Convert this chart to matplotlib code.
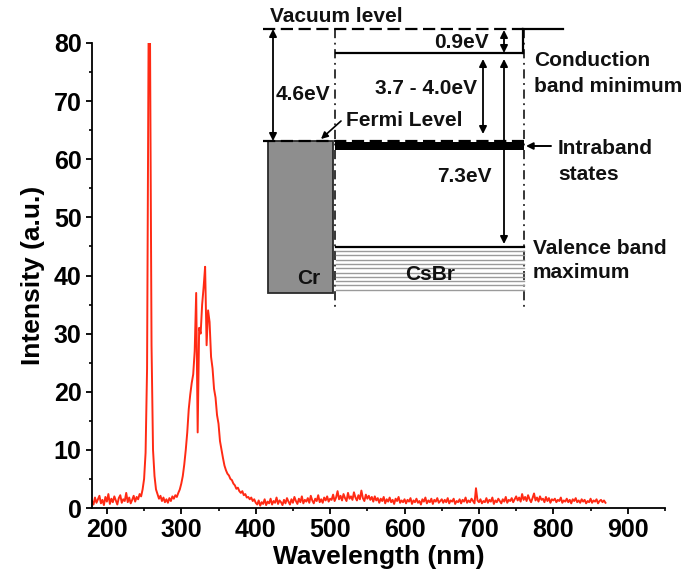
import numpy as np
import matplotlib
matplotlib.use("Agg")
import matplotlib.pyplot as plt
from matplotlib.ticker import MultipleLocator
from matplotlib.patches import Rectangle, FancyArrowPatch

plt.rcParams["font.family"] = ["Liberation Sans", "DejaVu Sans"]

# Emission spectrum, sampled every 2 nm from 180 to 870 nm
wavelength_nm = np.arange(180, 872, 2)
intensity = [
    # 180-228
    1.2, 0.6, 1.8, 0.9, 1.5, 2.1, 0.8, 1.4, 0.5, 1.9, 1.1, 2.4, 0.7, 1.6, 1.0, 2.0, 1.3, 0.6, 1.7, 2.2, 0.9, 1.5, 1.2, 2.6, 1.0,
    # 230-278
    1.8, 0.8, 1.4, 2.1, 1.1, 1.9, 1.5, 2.4, 2.0, 3.2, 5.0, 9.5, 24.0, 80.0, 80.0, 28.0, 10.0, 5.5, 3.2, 2.4, 1.6, 2.1, 1.2, 1.8, 1.0,
    # 280-328
    1.5, 0.9, 1.7, 1.2, 2.0, 1.6, 2.2, 1.9, 2.6, 3.2, 4.2, 5.5, 7.5, 10.0, 13.0, 17.0, 19.5, 21.5, 23.0, 27.0, 37.0, 13.0, 31.0, 30.0, 35.0,
    # 330-378
    38.0, 41.5, 28.0, 34.0, 32.0, 26.0, 24.0, 20.5, 19.0, 16.0, 14.5, 11.5, 10.0, 8.6, 7.3, 6.5, 5.9, 5.6, 5.0, 4.8, 4.2, 3.9, 3.3, 3.5, 2.9,
    # 380-400
    2.6, 2.9, 2.2, 2.4, 1.8, 1.9, 1.5, 1.8, 1.2, 1.5, 0.9,
    # 402-450
    0.6, 1.3, 0.4, 1.0, 0.7, 1.5, 0.5, 1.1, 0.8, 1.6, 0.6, 1.2, 0.9, 1.8, 0.7, 1.3, 1.0, 0.5, 1.4, 0.8, 1.7, 1.1, 0.6, 1.5, 0.9,
    # 452-500
    1.9, 1.2, 0.7, 1.6, 1.0, 2.0, 0.8, 1.4, 1.1, 1.7, 0.9, 2.1, 1.3, 0.8, 1.6, 1.2, 2.2, 1.0, 1.5, 0.9, 1.8, 1.3, 2.0, 1.1, 1.6,
    # 502-550
    1.4, 2.3, 1.2, 1.8, 2.9, 1.5, 2.1, 1.3, 2.4, 1.7, 1.2, 2.6, 1.6, 2.0, 1.4, 2.7, 1.8, 1.3, 2.2, 1.5, 3.0, 1.7, 1.2, 2.3, 1.6,
    # 552-600
    2.1, 1.4, 1.9, 1.1, 2.0, 1.3, 1.7, 0.9, 1.6, 1.2, 1.9, 0.8, 1.5, 1.1, 1.8, 1.0, 1.4, 0.7, 1.6, 1.2, 1.9, 0.9, 1.3, 1.0, 1.5,
    # 602-650
    0.8, 1.4, 1.1, 1.7, 0.7, 1.3, 1.0, 1.6, 0.9, 1.2, 0.6, 1.5, 1.1, 1.8, 0.8, 1.3, 1.0, 1.6, 0.7, 1.4, 1.1, 1.7, 0.9, 1.2, 1.5,
    # 652-700
    0.9, 1.4, 1.0, 1.7, 0.8, 1.3, 1.1, 1.6, 0.7, 1.2, 1.0, 1.5, 0.8, 1.4, 1.1, 1.8, 0.9, 1.3, 1.0, 1.6, 1.2, 0.8, 3.4, 1.3, 1.0,
    # 702-750
    1.5, 0.8, 1.2, 1.0, 1.7, 0.9, 1.4, 1.1, 1.8, 0.7, 1.3, 1.0, 1.6, 1.2, 0.8, 1.5, 1.1, 1.9, 0.9, 1.4, 1.2, 1.7, 1.0, 1.5, 2.0,
    # 752-800
    1.3, 1.8, 1.1, 2.4, 1.4, 1.9, 1.2, 2.2, 1.5, 1.0, 1.7, 2.5, 1.3, 1.8, 1.1, 2.0, 1.4, 1.6, 1.0, 1.9, 1.2, 1.7, 0.9, 1.5, 1.3,
    # 802-850
    1.6, 1.0, 1.4, 1.2, 1.8, 0.9, 1.3, 1.1, 1.6, 1.0, 1.4, 0.8, 1.5, 1.2, 1.7, 1.0, 1.3, 0.9, 1.5, 1.1, 1.4, 0.8, 1.2, 1.0, 1.6,
    # 852-870
    0.9, 1.3, 1.1, 1.5, 0.8, 1.2, 1.4, 1.0, 1.3, 0.9,
]

x_ticks = [200, 300, 400, 500, 600, 700, 800, 900]
y_ticks = [0, 10, 20, 30, 40, 50, 60, 70, 80]

W, H = 698, 580
fig = plt.figure(figsize=(W / 100, H / 100), dpi=100)
ax = fig.add_axes([92 / W, 1 - 508 / H, (665 - 92) / W, (508 - 43) / H])

ax.plot(wavelength_nm, intensity, color="#ff2a14", lw=1.4)
ax.set_xlim(180, 950)
ax.set_ylim(0, 80)
ax.set_xticks(x_ticks)
ax.set_yticks(y_ticks)
ax.xaxis.set_minor_locator(MultipleLocator(50))
ax.yaxis.set_minor_locator(MultipleLocator(5))
for s in ("top", "right"):
    ax.spines[s].set_visible(False)
for s in ("left", "bottom"):
    ax.spines[s].set_linewidth(1.3)
ax.tick_params(which="major", direction="out", length=4.5, width=1.3, pad=3,
               labelsize=18)
ax.tick_params(which="minor", direction="out", length=2.5, width=1.2)
for lab in ax.get_xticklabels() + ax.get_yticklabels():
    lab.set_fontweight("bold")
ax.set_xlabel("Wavelength (nm)", fontsize=19, fontweight="bold", labelpad=2)
ax.set_ylabel("Intensity (a.u.)", fontsize=19, fontweight="bold", labelpad=6)

# Energy-level diagram drawn in figure pixel coordinates
dg = fig.add_axes([0, 0, 1, 1], facecolor="none")
dg.set_xlim(0, W)
dg.set_ylim(H, 0)
dg.axis("off")

k = "black"
lw_lvl = 1.6
dash = (5.5, 2.5)

# vacuum level
dg.plot([263, 523], [29, 29], color=k, lw=lw_lvl, dashes=dash)
dg.plot([523, 563], [29, 29], color=k, lw=lw_lvl)
dg.plot([523, 523], [29, 53], color=k, lw=lw_lvl)
# conduction band minimum
dg.plot([336, 523], [53, 53], color=k, lw=lw_lvl)
# CsBr boundaries (dash-dot)
for xv in (335, 524):
    dg.plot([xv, xv], [29, 307], color=k, lw=1.1, dashes=(6, 3, 1.2, 3))

# Cr block
dg.add_patch(Rectangle((268, 141), 65, 152, facecolor="#8e8e8e",
                       edgecolor="#2a2a2a", lw=1.3, zorder=2))
# intraband states bar and Fermi level
dg.add_patch(Rectangle((335, 142), 189, 8, facecolor=k, edgecolor="none", zorder=3))
dg.plot([263, 524], [141, 141], color=k, lw=lw_lvl, dashes=dash, zorder=4)
# valence band maximum and filled band
dg.plot([336, 524], [247, 247], color=k, lw=lw_lvl)
for yv in np.arange(251, 294, 4.3):
    dg.plot([336, 524], [yv, yv], color="#9a9a9a", lw=1.0)


def dbl_arrow(x, y0, y1):
    dg.add_patch(FancyArrowPatch((x, y0), (x, y1), arrowstyle="<|-|>",
                                 mutation_scale=11, color=k, lw=1.3,
                                 shrinkA=0, shrinkB=0, zorder=5))


dbl_arrow(273, 29, 141)
dbl_arrow(504, 30, 53)
dbl_arrow(483, 59, 134)
dbl_arrow(504, 59, 244)

# pointer arrows
dg.add_patch(FancyArrowPatch((341, 121), (321, 139), arrowstyle="-|>",
                             mutation_scale=10, color=k, lw=1.2,
                             shrinkA=0, shrinkB=0, zorder=5))
dg.add_patch(FancyArrowPatch((551, 146), (526, 146), arrowstyle="-|>",
                             mutation_scale=10, color=k, lw=1.4,
                             shrinkA=0, shrinkB=0, zorder=5))

fs = 15
tkw = dict(fontsize=fs, fontweight="bold", color="#111111")
dg.text(270, 17, "Vacuum level", ha="left", va="center", **tkw)
dg.text(489, 43, "0.9eV", ha="right", va="center", **tkw)
dg.text(426, 88, "3.7 - 4.0eV", ha="center", va="center", **tkw)
dg.text(303, 94, "4.6eV", ha="center", va="center", **tkw)
dg.text(346, 120, "Fermi Level", ha="left", va="center", **tkw)
dg.text(464, 176, "7.3eV", ha="center", va="center", **tkw)
dg.text(534, 60, "Conduction", ha="left", va="center", **tkw)
dg.text(534, 87, "band minimum", ha="left", va="center", **tkw)
dg.text(558, 149, "Intraband", ha="left", va="center", **tkw)
dg.text(558, 175, "states", ha="left", va="center", **tkw)
dg.text(533, 248, "Valence band", ha="left", va="center", **tkw)
dg.text(533, 272, "maximum", ha="left", va="center", **tkw)
dg.text(430, 274, "CsBr", ha="center", va="center", zorder=6, **tkw)
dg.text(309, 278, "Cr", ha="center", va="center", zorder=6, **tkw)

fig.savefig("out.png", dpi=100)
